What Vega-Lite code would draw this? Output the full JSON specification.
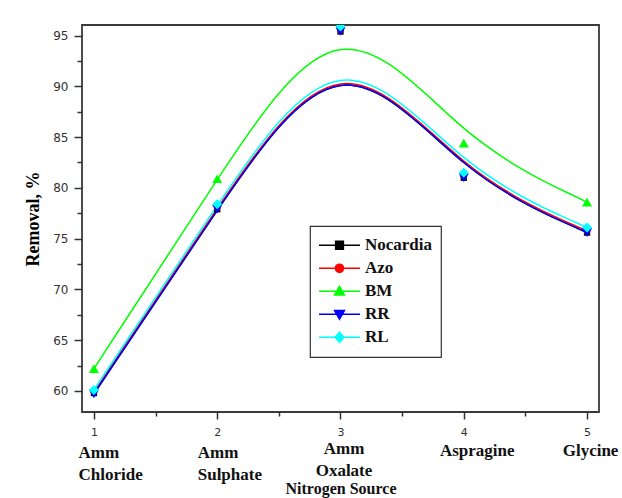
{
  "$schema": "https://vega.github.io/schema/vega-lite/v6.json",
  "width": 517,
  "height": 387,
  "autosize": {"type": "none"},
  "padding": {"left": 82, "top": 25, "right": 23, "bottom": 86},
  "background": "white",
  "config": {
    "view": {"stroke": "#3a3a3a", "strokeWidth": 1.8},
    "axis": {"domain": false, "grid": false},
    "legend": {"strokeWidth": 1.2}
  },
  "data": {
    "values": [
      {"source": 1, "series": "Nocardia", "removal": 59.8},
      {"source": 2, "series": "Nocardia", "removal": 77.9},
      {"source": 3, "series": "Nocardia", "removal": 95.4},
      {"source": 4, "series": "Nocardia", "removal": 81.0},
      {"source": 5, "series": "Nocardia", "removal": 75.6},
      {"source": 1, "series": "Azo", "removal": 59.95},
      {"source": 2, "series": "Azo", "removal": 78.05},
      {"source": 3, "series": "Azo", "removal": 95.55},
      {"source": 4, "series": "Azo", "removal": 81.15},
      {"source": 5, "series": "Azo", "removal": 75.75},
      {"source": 1, "series": "BM", "removal": 62.2},
      {"source": 2, "series": "BM", "removal": 80.9},
      {"source": 3, "series": "BM", "removal": 99.1},
      {"source": 4, "series": "BM", "removal": 84.4},
      {"source": 5, "series": "BM", "removal": 78.6},
      {"source": 1, "series": "RR", "removal": 59.7},
      {"source": 2, "series": "RR", "removal": 77.9},
      {"source": 3, "series": "RR", "removal": 95.4},
      {"source": 4, "series": "RR", "removal": 81.0},
      {"source": 5, "series": "RR", "removal": 75.6},
      {"source": 1, "series": "RL", "removal": 60.1},
      {"source": 2, "series": "RL", "removal": 78.4},
      {"source": 3, "series": "RL", "removal": 95.9},
      {"source": 4, "series": "RL", "removal": 81.5},
      {"source": 5, "series": "RL", "removal": 76.1}
    ]
  },
  "layer": [
    {
      "mark": {"type": "line", "interpolate": "basis", "strokeWidth": 1.5, "clip": true},
      "encoding": {
        "x": {
          "field": "source",
          "type": "quantitative",
          "scale": {"domain": [0.903, 5.097], "nice": false, "zero": false},
          "axis": {
            "orient": "bottom",
            "title": null,
            "values": [1, 1.5, 2, 2.5, 3, 3.5, 4, 4.5, 5],
            "labelExpr": "datum.value % 1 === 0 ? format(datum.value, 'd') : ''",
            "tickSize": {"condition": {"test": "datum.value % 1 !== 0", "value": 4}, "value": 7},
            "tickColor": "#333333",
            "tickWidth": 1.5,
            "labelFont": "DejaVu Sans",
            "labelFontSize": 11,
            "labelColor": "#333333",
            "labelPadding": 7
          }
        },
        "y": {
          "field": "removal",
          "type": "quantitative",
          "scale": {"domain": [57.93, 96.04], "nice": false, "zero": false},
          "axis": {
            "title": "Removal, %",
            "titleFont": "Liberation Serif",
            "titleFontWeight": "bold",
            "titleFontSize": 18,
            "titleColor": "#000000",
            "titlePadding": 10,
            "values": [60, 62.5, 65, 67.5, 70, 72.5, 75, 77.5, 80, 82.5, 85, 87.5, 90, 92.5, 95],
            "labelExpr": "datum.value % 5 === 0 ? format(datum.value, 'd') : ''",
            "tickSize": {"condition": {"test": "datum.value % 5 !== 0", "value": 5}, "value": 8},
            "tickColor": "#333333",
            "tickWidth": 1.5,
            "labelFont": "DejaVu Sans",
            "labelFontSize": 12,
            "labelColor": "#333333",
            "labelPadding": 6
          }
        },
        "color": {
          "field": "series",
          "type": "nominal",
          "scale": {
            "domain": ["Nocardia", "Azo", "BM", "RR", "RL"],
            "range": ["#000000", "#ff0000", "#00ff00", "#0000ff", "#00ffff"]
          },
          "legend": {
            "orient": "none",
            "legendX": 228,
            "legendY": 201,
            "title": null,
            "strokeColor": "#333333",
            "fillColor": "#ffffff",
            "padding": 8,
            "symbolSize": 1681,
            "symbolStrokeWidth": 1.5,
            "symbolOffset": 0,
            "clipHeight": 22.5,
            "rowPadding": 0,
            "labelFont": "Liberation Serif",
            "labelFontWeight": "bold",
            "labelFontSize": 17,
            "labelColor": "#111111",
            "labelOffset": 4,
            "encode": {
              "symbols": {
                "update": {
                  "shape": {"signal": "datum.value === 'Nocardia' ? 'M-1,0H1M-0.19,-0.19H0.19V0.19H-0.19Z' : datum.value === 'Azo' ? 'M-1,0H1M-0.2,0A0.2,0.2 0 1,0 0.2,0A0.2,0.2 0 1,0 -0.2,0Z' : datum.value === 'BM' ? 'M-1,0H1M0,-0.24L0.24,0.18H-0.24Z' : datum.value === 'RR' ? 'M-1,0H1M0,0.24L0.24,-0.18H-0.24Z' : 'M-1,0H1M0,-0.25L0.22,0L0,0.25L-0.22,0Z'"},
                  "fill": {"signal": "datum.value === 'Nocardia' ? '#000000' : datum.value === 'Azo' ? '#ff0000' : datum.value === 'BM' ? '#00ff00' : datum.value === 'RR' ? '#0000ff' : '#00ffff'"},
                  "stroke": {"signal": "datum.value === 'Nocardia' ? '#000000' : datum.value === 'Azo' ? '#ff0000' : datum.value === 'BM' ? '#00ff00' : datum.value === 'RR' ? '#0000ff' : '#00ffff'"},
                  "opacity": {"value": 1}
                }
              }
            }
          }
        }
      }
    },
    {
      "mark": {"type": "point", "filled": true, "opacity": 1, "clip": true},
      "encoding": {
        "x": {
          "field": "source",
          "type": "quantitative",
          "axis": {
            "orient": "bottom",
            "values": [1, 2, 3, 4, 5],
            "ticks": false,
            "domain": false,
            "labelExpr": "datum.value === 1 ? ['Amm', 'Chloride'] : datum.value === 2 ? ['Amm', 'Sulphate'] : datum.value === 3 ? ['Amm', 'Oxalate'] : datum.value === 4 ? 'Aspragine' : 'Glycine'",
            "labelAlign": {"condition": {"test": "datum.value <= 2", "value": "left"}, "value": "center"},
            "labelOffset": {"condition": [{"test": "datum.value === 1", "value": -16}, {"test": "datum.value === 2", "value": -20}, {"test": "datum.value === 4", "value": 13}], "value": 3},
            "labelPadding": {"condition": [{"test": "datum.value === 3", "value": 28}, {"test": "datum.value === 4", "value": 30}, {"test": "datum.value === 5", "value": 30}], "value": 32},
            "labelBaseline": "top",
            "labelFont": "Liberation Serif",
            "labelFontWeight": "bold",
            "labelFontSize": 17,
            "labelLineHeight": 22,
            "labelColor": "#111111",
            "labelOverlap": false,
            "labelBound": false,
            "labelFlush": false,
            "title": "Nitrogen Source",
            "titleFont": "Liberation Serif",
            "titleFontWeight": "bold",
            "titleFontSize": 16,
            "titleColor": "#111111",
            "titlePadding": -2
          }
        },
        "y": {"field": "removal", "type": "quantitative", "axis": null},
        "color": {"field": "series", "type": "nominal", "legend": null},
        "shape": {
          "condition": [
            {"test": "datum.series === 'Nocardia'", "value": "square"},
            {"test": "datum.series === 'Azo'", "value": "circle"},
            {"test": "datum.series === 'BM'", "value": "triangle-up"},
            {"test": "datum.series === 'RR'", "value": "triangle-down"}
          ],
          "value": "diamond"
        },
        "size": {
          "condition": [
            {"test": "datum.series === 'Nocardia'", "value": 40},
            {"test": "datum.series === 'Azo'", "value": 45}
          ],
          "value": 100
        }
      }
    }
  ],
  "resolve": {"axis": {"x": "independent", "y": "independent"}}
}
